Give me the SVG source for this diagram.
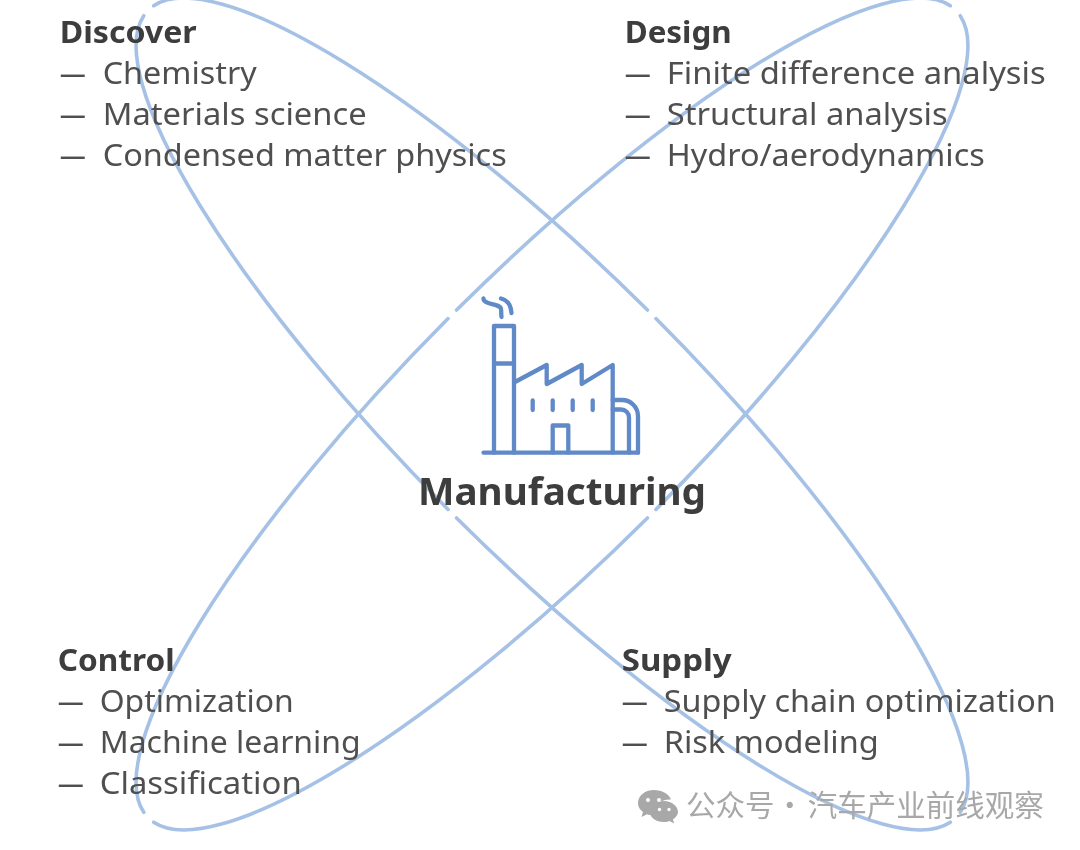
<svg xmlns="http://www.w3.org/2000/svg" width="1080" height="850" viewBox="0 0 1080 850">
<style>
text{font-family:"Noto Sans","Liberation Sans",sans-serif;fill:#484848}
.t{font-size:31px;font-weight:700;fill:#3d3d3d}
.i{font-size:31px;fill:#505050}
.m{font-size:38px;font-weight:700;fill:#3d3d3d}
.e{fill:none;stroke:#a6c1e6;stroke-width:3.6;stroke-linecap:round}
.f{fill:none;stroke:#6189c8;stroke-width:4.3;stroke-linecap:round;stroke-linejoin:round}
.w{font-family:"Noto Sans CJK SC","Noto Sans",sans-serif;font-size:29.5px;fill:#a8a8a8;word-spacing:-6px}
.s{filter:url(#soft)}
</style>
<defs>
<filter id="soft" x="-5%" y="-5%" width="110%" height="110%"><feGaussianBlur stdDeviation="0.55"/></filter>
<g id="orbit" class="e">
<path d="M570.3 7A571 141 0 0 1 6 141"/>
<path d="M-6 141A571 141 0 0 1-570.3 7"/>
<path d="M-570.3-7A571 141 0 0 1-6-141"/>
<path d="M6-141A571 141 0 0 1 570.3-7"/>
</g>
</defs>
<rect width="1080" height="850" fill="#fff"/>
<g id="connectors" class="s">
<use href="#orbit" transform="translate(552 414) rotate(45)"/>
<use href="#orbit" transform="translate(552 414) rotate(-45)"/>
</g>
<g id="discover" class="s" transform="translate(-.3 -.5)">
<text class="t" x="60" y="43" textLength="137" lengthAdjust="spacingAndGlyphs">Discover</text>
<text class="i" x="60" y="84" textLength="26" lengthAdjust="spacingAndGlyphs">—</text><text class="i" x="103" y="84" textLength="154" lengthAdjust="spacingAndGlyphs">Chemistry</text>
<text class="i" x="60" y="125" textLength="26" lengthAdjust="spacingAndGlyphs">—</text><text class="i" x="103" y="125" textLength="264" lengthAdjust="spacingAndGlyphs">Materials science</text>
<text class="i" x="60" y="166" textLength="26" lengthAdjust="spacingAndGlyphs">—</text><text class="i" x="103" y="166" textLength="404" lengthAdjust="spacingAndGlyphs">Condensed matter physics</text>
</g>
<g id="design" class="s" transform="translate(-.3 -.5)">
<text class="t" x="625" y="43" textLength="107" lengthAdjust="spacingAndGlyphs">Design</text>
<text class="i" x="625" y="84" textLength="26" lengthAdjust="spacingAndGlyphs">—</text><text class="i" x="667" y="84" textLength="379" lengthAdjust="spacingAndGlyphs">Finite difference analysis</text>
<text class="i" x="625" y="125" textLength="26" lengthAdjust="spacingAndGlyphs">—</text><text class="i" x="667" y="125" textLength="281" lengthAdjust="spacingAndGlyphs">Structural analysis</text>
<text class="i" x="625" y="166" textLength="26" lengthAdjust="spacingAndGlyphs">—</text><text class="i" x="667" y="166" textLength="318" lengthAdjust="spacingAndGlyphs">Hydro/aerodynamics</text>
</g>
<g id="control" class="s" transform="translate(-.3 -.5)">
<text class="t" x="58" y="671" textLength="117" lengthAdjust="spacingAndGlyphs">Control</text>
<text class="i" x="58" y="712" textLength="26" lengthAdjust="spacingAndGlyphs">—</text><text class="i" x="100" y="712" textLength="194" lengthAdjust="spacingAndGlyphs">Optimization</text>
<text class="i" x="58" y="753" textLength="26" lengthAdjust="spacingAndGlyphs">—</text><text class="i" x="100" y="753" textLength="261" lengthAdjust="spacingAndGlyphs">Machine learning</text>
<text class="i" x="58" y="794" textLength="26" lengthAdjust="spacingAndGlyphs">—</text><text class="i" x="100" y="794" textLength="202" lengthAdjust="spacingAndGlyphs">Classification</text>
</g>
<g id="supply" class="s" transform="translate(-.3 -.5)">
<text class="t" x="622" y="671" textLength="110" lengthAdjust="spacingAndGlyphs">Supply</text>
<text class="i" x="622" y="712" textLength="26" lengthAdjust="spacingAndGlyphs">—</text><text class="i" x="664" y="712" textLength="392" lengthAdjust="spacingAndGlyphs">Supply chain optimization</text>
<text class="i" x="622" y="753" textLength="26" lengthAdjust="spacingAndGlyphs">—</text><text class="i" x="664" y="753" textLength="215" lengthAdjust="spacingAndGlyphs">Risk modeling</text>
</g>
<g id="manufacturing" class="s">
<g class="f">
<path d="M483.500 452.700H638"/>
<path d="M494 452.700V326H514V452.700M494 363.500H514"/>
<path d="M514 382.500L546.700 365V384L581.700 365V384L612.700 365V452.700"/>
<path d="M532.700 400.500V410M552.700 400.500V410M572.700 400.500V410M592.700 400.500V410"/>
<path d="M552.700 452.700V425.500H568.300V452.700"/>
<path d="M612.700 400H622A16 16 0 0 1 638 416V452.700"/>
<path d="M612.700 409.500H621A8 8 0 0 1 629 417.500V452.700"/>
<path d="M483.500 298.500C483 305 500 303 501 309C501.500 312 501 314 501.500 317"/>
<path d="M501 298.500C507 300 511 305 511.500 313"/>
</g>
<text class="m" x="418" y="505" textLength="288" lengthAdjust="spacingAndGlyphs">Manufacturing</text>
</g>
<g id="watermark" class="s">
<g fill="#a8a8a8">
<path d="M654 790C644.500 790 638 796 638 803C638 807 640 810 643 812L641.500 817L647 814.200C649 815 651 815.200 653 815.200C652 806 660 799 671 799.500C669 794 662 790 654 790Z"/>
<path d="M664 801C655.500 801 650 806.500 650 812C650 817.500 655.500 822 664 822C666 822 668 821.700 669.500 821L674 823.500L673 819.300C676 817.200 678 814.700 678 812C678 806.500 672 801 664 801Z"/>
</g>
<circle cx="648" cy="800" r="2" fill="#fff"/><circle cx="659" cy="800" r="2" fill="#fff"/><circle cx="659.500" cy="809.500" r="1.700" fill="#fff"/><circle cx="669" cy="809.500" r="1.700" fill="#fff"/>
<text class="w" x="686" y="816">公众号 · <tspan dx="2.500">汽车产业前线观察</tspan></text>
</g>
</svg>
